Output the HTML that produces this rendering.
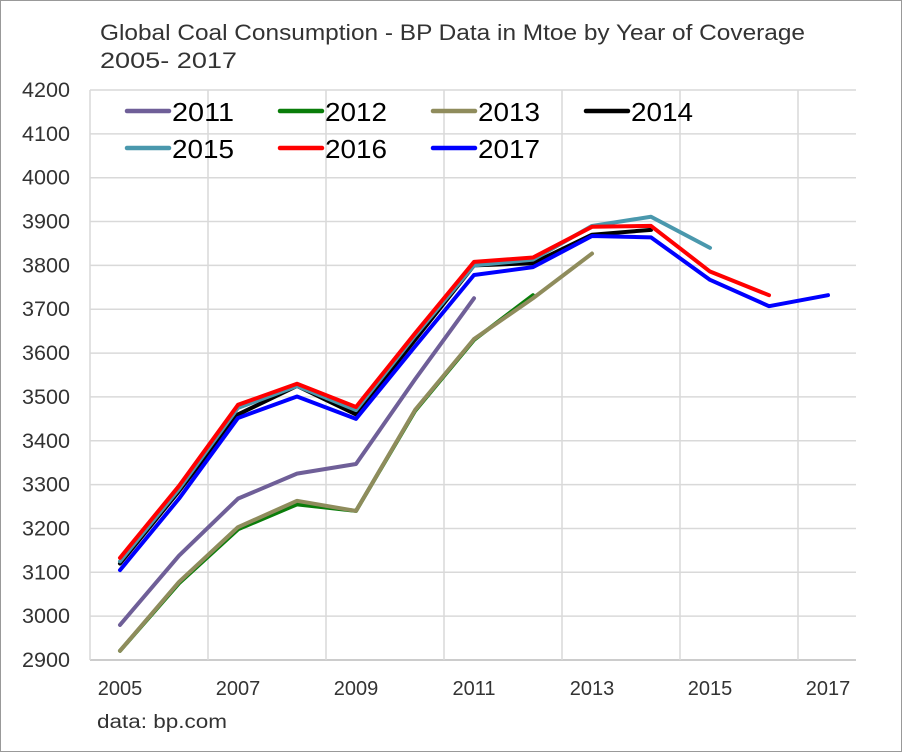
<!DOCTYPE html>
<html><head><meta charset="utf-8"><style>
html,body{margin:0;padding:0;background:#fff}
svg{display:block;font-family:"Liberation Sans",sans-serif}
</style></head><body>
<svg id="chart" width="902" height="752" viewBox="0 0 902 752">
<rect x="0.5" y="0.5" width="901" height="751" fill="#fff" stroke="#999" stroke-width="1"/>
<text x="100" y="40" font-size="22" fill="#333" textLength="705" lengthAdjust="spacingAndGlyphs">Global Coal Consumption - BP Data in Mtoe by Year of Coverage</text>
<text x="100" y="68" font-size="22" fill="#333" textLength="137" lengthAdjust="spacingAndGlyphs">2005- 2017</text>
<g id="grid"></g>
<g id="series"></g>
<g id="legend"></g>
<text x="97" y="728" font-size="19" fill="#333" textLength="130" lengthAdjust="spacingAndGlyphs">data: bp.com</text>
</svg>
<script>
const years = [2005,2006,2007,2008,2009,2010,2011,2012,2013,2014,2015,2016,2017];
const yTicks = [2900,3000,3100,3200,3300,3400,3500,3600,3700,3800,3900,4000,4100,4200];
const xTickLabels = ["2005","2007","2009","2011","2013","2015","2017"];
const seriesNames = ["2011","2012","2013","2014","2015","2016","2017"];
const seriesColors = ["#6f5f98","#0a7d0a","#8f8c5c","#000000","#4a98ad","#ff0000","#0000ff"];
const s2011 = [2980,3138,3268,3325,3347,3540,3725];
const s2012 = [2921,3075,3198,3255,3240,3468,3630,3732];
const s2013 = [2921,3078,3203,3263,3240,3470,3632,3725,3827];
const s2014 = [3120,3285,3460,3525,3460,3630,3800,3805,3870,3881];
const s2015 = [3125,3290,3475,3525,3470,3640,3800,3813,3890,3911,3840];
const s2016 = [3133,3297,3482,3530,3477,3645,3808,3818,3888,3890,3786,3732];
const s2017 = [3105,3268,3452,3501,3450,3615,3778,3796,3867,3864,3767,3707,3732];
const allSeries = [s2011,s2012,s2013,s2014,s2015,s2016,s2017];
const NS="http://www.w3.org/2000/svg";
const L=90,R=856,T=90,B=660,yMin=2900,yMax=4200;
const xs=i=>120+i*59;
const ys=v=>B-(v-yMin)/(yMax-yMin)*(B-T);
function mk(tag,attrs,parent){const e=document.createElementNS(NS,tag);for(const k in attrs)e.setAttribute(k,attrs[k]);parent.appendChild(e);return e;}
const grid=document.getElementById('grid');
yTicks.forEach(v=>{
  const l=mk('line',{x1:L,x2:R,y1:ys(v),y2:ys(v),stroke:v===yMin?'#bbb':'#d9d9d9','stroke-width':1.5},grid);
  
  
  const t=mk('text',{x:70,y:ys(v)+7,'text-anchor':'end','font-size':21,fill:'#333',textLength:48,lengthAdjust:'spacingAndGlyphs'},grid);
  
  
  t.textContent=v;
});
for(let k=0;k<=6;k++){
  const x=L+k*118;
  const l=mk('line',{x1:x,x2:x,y1:T,y2:B,stroke:'#d9d9d9','stroke-width':1.5},grid);
  
  
}
xTickLabels.forEach((lab,k)=>{
  const i=years.indexOf(+lab);
  const t=mk('text',{x:xs(i),y:695,'text-anchor':'middle','font-size':20,fill:'#333'},grid);
  
  
  t.textContent=lab;
});
const sg=document.getElementById('series');
allSeries.forEach((s,si)=>{
  const p=mk('polyline',{points:s.map((v,i)=>xs(i)+','+ys(v)).join(' '),fill:'none',stroke:seriesColors[si],'stroke-width':4,'stroke-linejoin':'round','stroke-linecap':'round'},sg);
  
  
});
const lg=document.getElementById('legend');
seriesNames.forEach((n,i)=>{
  const col=i%4,row=Math.floor(i/4);
  const x=127+col*153,y=111+row*37;
  const g=mk('g',{},lg);
  
  
  mk('line',{x1:x,x2:x+42,y1:y,y2:y,stroke:seriesColors[i],'stroke-width':4.5,'stroke-linecap':'round'},g);
  const t=mk('text',{x:x+45,y:y+10,'font-size':26,fill:'#000',textLength:62,lengthAdjust:'spacingAndGlyphs'},g);
  t.textContent=n;
});
</script>
</body></html>
